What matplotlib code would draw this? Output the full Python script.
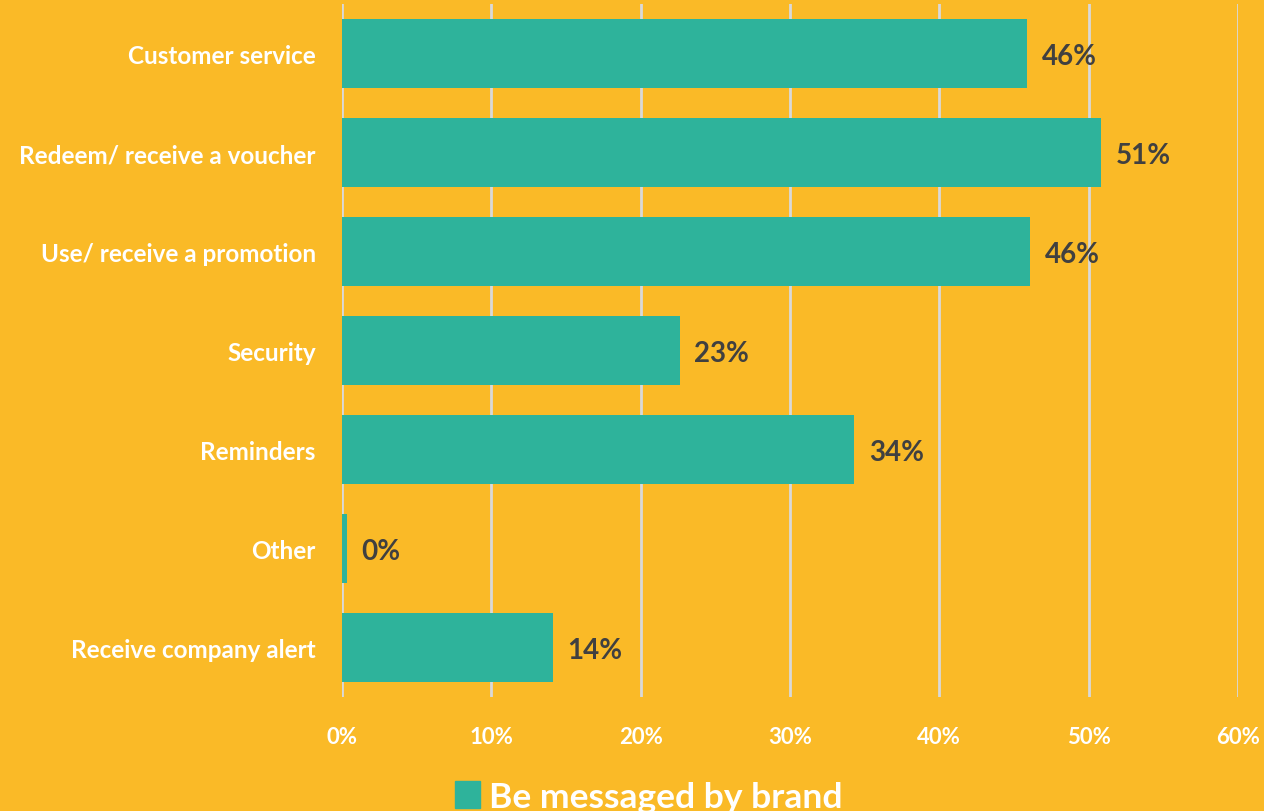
import matplotlib.pyplot as plt
from matplotlib.patches import Patch

categories = ['Customer service', 'Redeem/ receive a voucher', 'Use/ receive a promotion',
              'Security', 'Reminders', 'Other', 'Receive company alert']
values = [45.9, 50.8, 46.1, 22.6, 34.3, 0.3, 14.1]
labels = ['46%', '51%', '46%', '23%', '34%', '0%', '14%']
xticks = [0, 10, 20, 30, 40, 50, 60]
series_name = 'Be messaged by brand'

bg = '#FABA27'
teal = '#2EB39B'

plt.rcParams['font.family'] = ['Lato', 'DejaVu Sans']

fig = plt.figure(figsize=(12.64, 8.12), dpi=100, facecolor=bg)
ax = fig.add_axes([0.2706, 0.1404, 0.7088, 0.8534], facecolor=bg)

y = list(range(len(categories)))
ax.barh(y, values, height=0.7, color=teal, zorder=3)
ax.set_ylim(len(categories) - 0.5, -0.5)
ax.set_xlim(0, 60)

# value labels right of each bar
for yi, v, lab in zip(y, values, labels):
    ax.text(v + 1.0, yi, lab, va='center_baseline', ha='left', fontsize=20, fontweight='bold',
            color='#404040', zorder=4)

ax.set_xticks(xticks)
ax.set_xticklabels([f'{t}%' for t in xticks])
ax.set_yticks(y)
ax.set_yticklabels(categories)
ax.tick_params(axis='x', length=0, pad=21, labelsize=16, labelcolor='white')
ax.tick_params(axis='y', length=0, pad=19, labelsize=17.5, labelcolor='white')
for t in ax.get_xticklabels() + ax.get_yticklabels():
    t.set_fontweight('bold')

ax.grid(axis='x', color='#D9D9D9', linewidth=2, zorder=0)
for s in ax.spines.values():
    s.set_visible(False)

leg = fig.legend(handles=[Patch(color=teal, label=series_name)], loc='lower center',
                 bbox_to_anchor=(0.513, -0.042), frameon=False, fontsize=25.5,
                 handlelength=0.7, handleheight=0.8, handletextpad=0.25)
for t in leg.get_texts():
    t.set_color('white')
    t.set_fontweight('bold')

fig.savefig('out.png', dpi=100, facecolor=bg)
